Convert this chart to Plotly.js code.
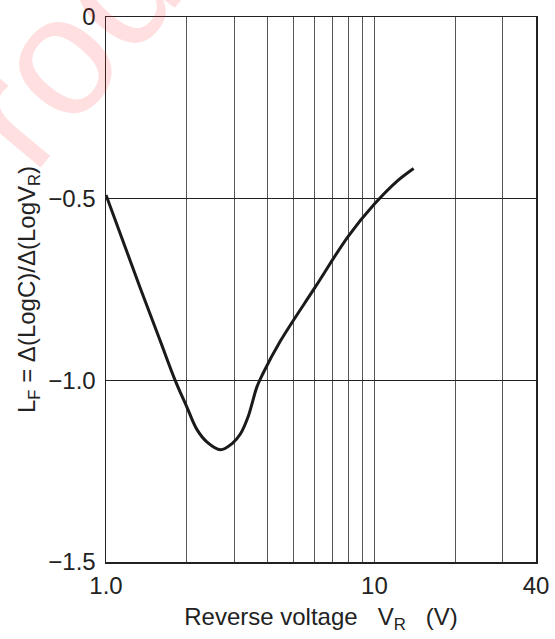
<!DOCTYPE html>
<html>
<head>
<meta charset="utf-8">
<script src="https://cdn.plot.ly/plotly-3.0.1.min.js"></script>
<style>html,body{margin:0;padding:0;background:#fff;}#chart{width:555px;height:639px;}</style>
</head>
<body>
<div id="chart"></div>
<script>
// Reverse voltage (V)
var vr = [1.0, 1.34, 1.59, 1.81, 2.0, 2.18, 2.38, 2.67, 2.95, 3.17, 3.40, 3.50, 3.65, 3.815, 4.463, 6.0, 8.0, 10.0, 12.1, 14.0];
// L_F = d(LogC)/d(LogVR)
var lf = [-0.49, -0.745, -0.89, -1.0, -1.073, -1.135, -1.170, -1.191, -1.174, -1.147, -1.096, -1.064, -1.018, -0.986, -0.892, -0.745, -0.603, -0.515, -0.453, -0.417];

var xTickVals = [1, 2, 3, 4, 5, 6, 7, 8, 9, 10, 20, 30, 40];
var xTickText = ["1.0", "", "", "", "", "", "", "", "", "10", "", "", "40"];
var yTickVals = [-1.5, -1.0, -0.5, 0];
var yTickText = ["\u22121.5", "\u22121.0", "\u22120.5", "0"];
var watermark = "rod";

var font = "Liberation Sans, Arial, sans-serif";

var trace = {
  x: vr, y: lf, type: "scatter", mode: "lines",
  line: {color: "#1a1a1a", width: 3, shape: "spline", smoothing: 1.0},
  hoverinfo: "skip"
};

var layout = {
  width: 555, height: 639,
  margin: {l: 106, r: 19, t: 17, b: 77},
  paper_bgcolor: "#fff", plot_bgcolor: "#fff",
  showlegend: false,
  font: {family: font, color: "#222", size: 24},
  xaxis: {
    type: "log", range: [0, Math.log10(40)],
    tickmode: "array", tickvals: xTickVals, ticktext: xTickText,
    showgrid: true, gridcolor: "#555", gridwidth: 1,
    showline: true, mirror: true, linecolor: "#222", linewidth: 1.5,
    ticks: "", ticklabelstandoff: 2, zeroline: false,
    tickfont: {family: font, size: 24, color: "#222"},
    title: {text: "Reverse voltage   V<sub>R</sub>   (V)", font: {family: font, size: 24, color: "#222"}, standoff: 10}
  },
  yaxis: {
    range: [-1.5, 0],
    tickmode: "array", tickvals: yTickVals, ticktext: yTickText,
    showgrid: true, gridcolor: "#222", gridwidth: 1,
    showline: true, mirror: true, linecolor: "#222", linewidth: 1.5,
    ticks: "", ticklabelstandoff: 4, zeroline: false,
    tickfont: {family: font, size: 24, color: "#222"},
    title: {text: "L<sub>F</sub> = \u0394(LogC)/\u0394(LogV<sub>R</sub>)", font: {family: font, size: 24, color: "#222"}, standoff: 6}
  },
  annotations: [{
    xref: "paper", yref: "paper", x: -0.09, y: 0.95,
    text: watermark, showarrow: false, textangle: -50,
    font: {family: font, size: 170, color: "rgba(255,40,40,0.15)"},
    xanchor: "center", yanchor: "middle"
  }]
};

Plotly.newPlot("chart", [trace], layout, {displayModeBar: false, staticPlot: true});
</script>
</body>
</html>
